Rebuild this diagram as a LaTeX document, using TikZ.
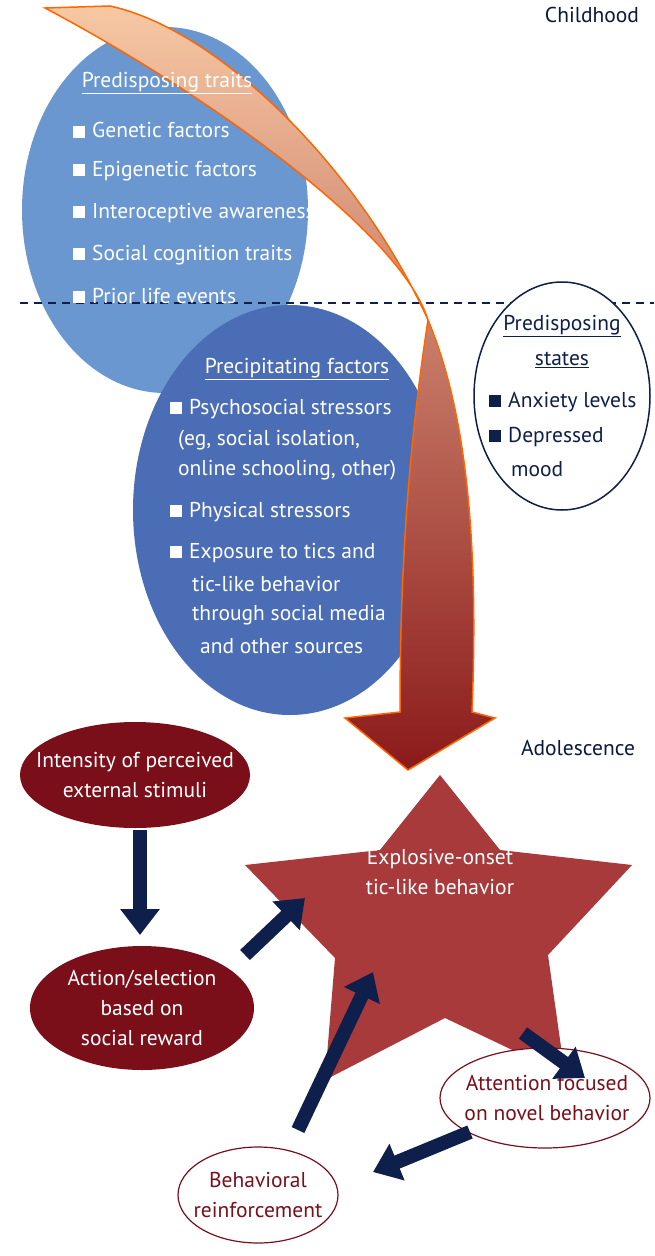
\documentclass[tikz,border=0pt]{standalone}
\usepackage{fontspec}
\setmainfont{PT Sans}
\usetikzlibrary{arrows.meta}
\definecolor{lblue}{HTML}{6A97D0}
\definecolor{mblue}{HTML}{4A6DB5}
\definecolor{navy}{HTML}{0F1F4B}
\definecolor{dred}{HTML}{7A0F1A}
\definecolor{sred}{HTML}{A83A3C}
\definecolor{peach}{HTML}{F7C8A4}
\definecolor{rustd}{HTML}{8B1A1A}
\newcommand{\bsq}{\rule{12pt}{12pt}\hspace{7pt}}
\begin{document}
\begin{tikzpicture}[x=1pt,y=-1pt,
  txt/.style={font=\fontsize{21.5}{24}\selectfont, inner sep=0pt},
  wt/.style={txt, text=white},
  bul/.style={txt, anchor=west},
  nar/.style={line width=14pt, navy, -{Triangle[width=38pt,length=26pt]}}]
\useasboundingbox (0,0) rectangle (654,1256);
\fill[white] (0,0) rectangle (654,1256);
% ellipses
\coordinate (e1c) at (165,210);
\fill[lblue] (e1c) ellipse [x radius=143, y radius=183];
\draw[navy, line width=1.5pt, dash pattern=on 8pt off 6pt] (20,303) -- (654,303);
\coordinate (e2c) at (290,510);
\fill[mblue] (e2c) ellipse [x radius=157, y radius=205];
\coordinate (e3c) at (562,396);
\draw[navy, line width=1.5pt, fill=white] (e3c) ellipse [x radius=88, y radius=114];
% big curved arrow
\shade[top color=peach, bottom color=rustd, draw=orange!80!red, line width=1.5pt]
 (45,8) .. controls (200,90) and (400,230) .. (428,320)
 .. controls (405,470) and (400,600) .. (400,712)
 -- (345,718) -- (408,770) -- (495,718) -- (472,712)
 .. controls (478,560) and (470,420) .. (428,320)
 .. controls (360,170) and (220,30) .. (110,6) -- cycle;
% texts ellipse 1
\node[wt] (t1) at (167,83) {\underline{Predisposing traits}};
\foreach \y/\t in {130/Genetic factors,171/Epigenetic factors,213/Interoceptive awareness,255/Social cognition traits,296/Prior life events}
  \node[bul, text=white] at (73,\y) {\bsq\t};
% ellipse 2
\node[wt] (t2) at (297,369) {\underline{Precipitating factors}};
\node[bul, text=white] at (170,409) {\bsq Psychosocial stressors};
\node[bul, text=white] at (178,440) {(eg, social isolation,};
\node[bul, text=white] at (178,470) {online schooling, other)};
\node[bul, text=white] at (170,512) {\bsq Physical stressors};
\node[bul, text=white] at (170,553) {\bsq Exposure to tics and};
\node[bul, text=white] at (192,584) {tic-like behavior};
\node[bul, text=white] at (192,615) {through social media};
\node[bul, text=white] at (200,646) {and other sources};
% ellipse 3
\node[txt, text=navy] at (562,326) {\underline{Predisposing}};
\node[txt, text=navy] at (562,360) {\underline{states}};
\node[bul, text=navy] at (489,402) {\bsq Anxiety levels};
\node[bul, text=navy] at (489,437) {\bsq Depressed};
\node[bul, text=navy] at (511,469) {mood};
% labels
\node[txt, text=navy!80!black] (ch) at (592,15) {Childhood};
\node[txt, text=navy!80!black] (ad) at (578,748) {Adolescence};
% red ellipses
\fill[dred] (135,775) ellipse [x radius=115, y radius=53];
\node[wt, align=center] (r1) at (135,775) {Intensity of perceived\\[6pt]external stimuli};
\fill[dred] (142,1008) ellipse [x radius=112, y radius=62];
\node[wt, align=center] (r2) at (142,1008) {Action/selection\\[6pt]based on\\[6pt]social reward};
% star
\fill[sred] (440,775) -- (500,850) -- (632,865) -- (548,955) -- (565,1075) -- (445,1018)
  -- (325,1080) -- (335,958) -- (245,865) -- (380,850) -- cycle;
\node[wt, align=center] (st) at (440,872) {Explosive-onset\\[6pt]tic-like behavior};
% white ellipses
\draw[dred, line width=1.2pt, fill=white] (545,1098) ellipse [x radius=105, y radius=50];
\node[txt, text=dred, align=center] (w1) at (547,1098) {Attention focused\\[6pt]on novel behavior};
\draw[dred, line width=1.2pt, fill=white] (258,1195) ellipse [x radius=80, y radius=48];
\node[txt, text=dred, align=center] (w2) at (258,1195) {Behavioral\\[6pt]reinforcement};
% navy arrows
\coordinate (a1s) at (140,830); \coordinate (a1e) at (140,935);
\coordinate (a2s) at (245,955); \coordinate (a2e) at (305,898);
\coordinate (a3s) at (523,1033); \coordinate (a3e) at (585,1078);
\coordinate (a4s) at (470,1132); \coordinate (a4e) at (373,1172);
\coordinate (a5s) at (298,1130); \coordinate (a5e) at (373,972);
\foreach \s/\e in {a1s/a1e,a2s/a2e,a3s/a3e,a4s/a4e,a5s/a5e}
  \draw[nar] (\s) -- (\e);
\end{tikzpicture}
\end{document}
